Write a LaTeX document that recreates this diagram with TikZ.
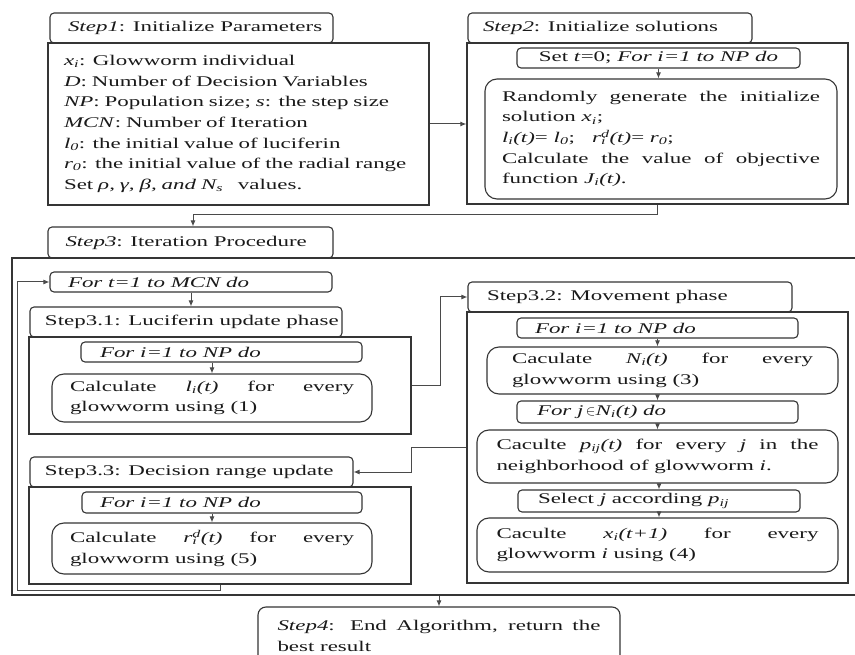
\documentclass[tikz,border=0pt]{standalone}
\usepackage{fontspec}
\setmainfont{Liberation Serif}[FakeStretch=1.55]
\usetikzlibrary{arrows.meta}
\newcommand\isub[1]{\textsubscript{\textit{#1}}}
\newsavebox\subbx
\newsavebox\supbx
\newcommand\isubsup[2]{\sbox\subbx{\textsubscript{\textit{#1}}}\sbox\supbx{\textsuperscript{\textit{#2}}}\rlap{\usebox\subbx}\usebox\supbx}
\newcommand\lft[2]{\makebox[#1][l]{#2}}
\definecolor{ln}{HTML}{353535}
\definecolor{cn}{HTML}{4A4A4A}
\definecolor{tx}{HTML}{1A1A1A}
\begin{document}
\begin{tikzpicture}[x=1pt,y=-1pt,
  every node/.style={font=\fontsize{14.8}{20.6}\selectfont, text=tx, inner sep=0pt},
  sz/.style 2 args={minimum width=#1, minimum height=#2},
  tbox/.style={draw=ln, line width=1.1pt, rounded corners=4pt},
  cbox/.style={draw=ln, line width=1.3pt},
  lbox/.style={draw=ln, line width=1.1pt, rounded corners=4pt},
  rbox/.style={draw=ln, line width=1.1pt, rounded corners=12pt},
  arr/.style={draw=cn, line width=1pt, -{Latex[length=6pt,width=5pt]}}
]
\useasboundingbox (0,0) rectangle (855,655);
\fill[white] (0,0) rectangle (855,655);

% Step 1
\node[tbox, sz={283pt}{30pt}] (s1t) at (191.5,28) {\lft{247pt}{\textit{Step1}: Initialize Parameters}};
\node[cbox, sz={381pt}{162pt}, text width=349pt, align=left] (s1c) at (238.5,124) {%
\textit{x\isub{i}}: Glowworm individual\\
\textit{D}: Number of Decision Variables\\
\textit{NP}: Population size; \textit{s}: the step size\\
\textit{MCN}: Number of Iteration\\
\textit{l\isub{0}}: the initial value of luciferin\\
\textit{r\isub{0}}: the initial value of the radial range\\
Set \textit{ρ, γ, β, and N\isub{s}}\ \ \ values.};

% Step 2
\node[tbox, sz={284pt}{30pt}] (s2t) at (610,28) {\lft{254pt}{\textit{Step2}: Initialize solutions}};
\node[cbox, sz={381pt}{161pt}] (s2c) at (657.5,123.5) {};
\node[lbox, sz={283pt}{20pt}] (set0) at (658.5,58) {Set \textit{t}=0; \textit{For i=1 to NP do}};
\node[rbox, sz={352pt}{120pt}, text width=318pt, align=justify] (rnd) at (661,139) {%
Randomly generate the initialize\linebreak solution \textit{x\isub{i}};\\
\textit{l\isub{i}(t)}= \textit{l\isub{0}};\ \ \ \textit{r\isubsup{i}{d}(t)}= \textit{r\isub{0}};\\
Calculate the value of objective\linebreak function \textit{J\isub{i}(t)}.};

% Step 3
\node[cbox, sz={850pt}{337pt}] (s3c) at (437,426.5) {};
\node[tbox, sz={285pt}{31pt}] (s3t) at (190.5,242.5) {\lft{250pt}{\textit{Step3}: Iteration Procedure}};
\node[lbox, sz={282pt}{20pt}] (fort) at (191,282) {\lft{246pt}{\textit{For t=1 to MCN do}}};

% Step 3.1
\node[tbox, sz={312pt}{30pt}] (s31t) at (186,322) {\lft{282pt}{Step3.1: Luciferin update phase}};
\node[cbox, sz={382pt}{97pt}] (s31c) at (220,385.5) {};
\node[lbox, sz={281pt}{20pt}] (fori1) at (221.5,352) {\lft{243pt}{\textit{For i=1 to NP do}}};
\node[rbox, sz={320pt}{48pt}, text width=284pt, align=justify] (calcl) at (212,398) {%
Calculate \textit{l\isub{i}(t)} for every\linebreak glowworm using (1)};

% Step 3.2
\node[tbox, sz={324pt}{30pt}] (s32t) at (630,297) {\lft{286pt}{Step3.2: Movement phase}};
\node[cbox, sz={381pt}{271pt}] (s32c) at (657.5,447.5) {};
\node[lbox, sz={281pt}{20pt}] (fori2) at (657.5,328) {\lft{245pt}{\textit{For i=1 to NP do}}};
\node[rbox, sz={351pt}{47pt}, text width=301pt, align=justify] (calcN) at (662.5,370.5) {%
Caculate \textit{N\isub{i}(t)} for every\linebreak glowworm using (3)};
\node[lbox, sz={281pt}{22pt}] (forj) at (657.5,412) {\lft{241pt}{\textit{For j}\,$\in$\textit{N\isub{i}(t) do}}};
\node[rbox, sz={361pt}{53pt}, text width=322pt, align=justify] (calcp) at (657.5,456.5) {%
Caculte \textit{p\isub{ij}(t)} for every \textit{j} in the\linebreak neighborhood of glowworm \textit{i}.};
\node[lbox, sz={282pt}{22pt}] (sel) at (659,501) {\lft{242pt}{Select \textit{j} according \textit{p\isub{ij}}}};
\node[rbox, sz={361pt}{54pt}, text width=322pt, align=justify] (calcx) at (657.5,545) {%
Caculte \textit{x\isub{i}(t+1)} for every\linebreak glowworm \textit{i} using (4)};

% Step 3.3
\node[tbox, sz={323pt}{30pt}] (s33t) at (191.5,472) {\lft{293pt}{Step3.3: Decision range update}};
\node[cbox, sz={382pt}{97pt}] (s33c) at (220,535.5) {};
\node[lbox, sz={280pt}{21pt}] (fori3) at (222,502.5) {\lft{244pt}{\textit{For i=1 to NP do}}};
\node[rbox, sz={320pt}{51pt}, text width=284pt, align=justify] (calcr) at (212,548.5) {%
Calculate \textit{r\isubsup{i}{d}(t)} for every\linebreak glowworm using (5)};

% Step 4
\node[rbox, rounded corners=8pt, sz={362pt}{58pt}, text width=323pt, align=justify] (s4) at (439,636) {%
\textit{Step4}: End Algorithm, return the\linebreak best result};

% connectors
\coordinate (j1) at (193,215);
\coordinate (lp) at (17,590);
\draw[arr] (s1c.east) -- (s1c.east -| s2c.west);
\draw[arr] (set0.south) -- (set0.south |- rnd.north);
\draw[arr] (s2c.south) |- (j1) -- (j1 |- s3t.north);
\draw[arr] (fort.south) -- (fort.south |- s31t.north);
\draw[arr] (calcl.north |- fori1.south) -- (calcl.north);
\draw[arr] (s31c.east) -- ++(29,0) |- (s32t.west);
\draw[arr] (fori2.south) -- (fori2.south |- calcN.north);
\draw[arr] (calcN.south -| forj.north) -- (forj.north);
\draw[arr] (forj.south) -- (forj.south |- calcp.north);
\draw[arr] (calcp.south -| sel.north) -- (sel.north);
\draw[arr] (sel.south) -- (sel.south |- calcx.north);
\draw[arr] (s32c.west) -- (s31c.east |- s32c.west) |- (s33t.east);
\draw[arr] (calcr.north |- fori3.south) -- (calcr.north);
\draw[arr] (s33c.south) |- (lp) |- (fort.west);
\draw[arr] (s4.north |- s3c.south) -- (s4.north);
\end{tikzpicture}
\end{document}
